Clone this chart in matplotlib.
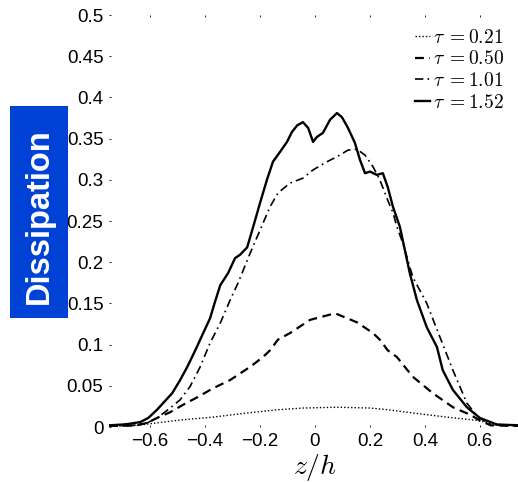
import matplotlib
matplotlib.use('Agg')
import matplotlib.pyplot as plt
from matplotlib.patches import Rectangle
import numpy as np

plt.rcParams['mathtext.fontset'] = 'cm'
plt.rcParams['font.family'] = ['Liberation Sans', 'DejaVu Sans']

# dissipation profiles across the layer, z/h vs value
z_021 = [-0.75, -0.65, -0.575, -0.491, -0.371, -0.247, -0.135, -0.044, 0.08, 0.2,
         0.265, 0.356, 0.48, 0.589, 0.65, 0.75]
d_021 = [0.0005, 0.002, 0.005, 0.0085, 0.012, 0.017, 0.021, 0.023, 0.024, 0.023,
         0.021, 0.017, 0.012, 0.008, 0.004, 0.001]

z_050 = [-0.75, -0.65, -0.611, -0.575, -0.527, -0.48, -0.429, -0.371, -0.309, -0.236,
         -0.189, -0.164, -0.135, -0.091, -0.018, 0.073, 0.153, 0.211, 0.236, 0.265,
         0.298, 0.356, 0.429, 0.502, 0.564, 0.6, 0.64, 0.75]
d_050 = [0.001, 0.002, 0.005, 0.011, 0.018, 0.027, 0.036, 0.047, 0.057, 0.073,
         0.085, 0.093, 0.106, 0.114, 0.13, 0.138, 0.127, 0.114, 0.106, 0.093,
         0.085, 0.061, 0.041, 0.024, 0.015, 0.008, 0.002, 0.001]

z_101 = [-0.75, -0.66, -0.611, -0.575, -0.535, -0.491, -0.455, -0.418, -0.382, -0.345,
         -0.309, -0.28, -0.236, -0.2, -0.164, -0.135, -0.091, -0.044, -0.007, 0.044,
         0.08, 0.12, 0.153, 0.182, 0.211, 0.236, 0.265, 0.284, 0.298, 0.32,
         0.356, 0.407, 0.455, 0.502, 0.553, 0.593, 0.64, 0.75]
d_101 = [0.001, 0.002, 0.005, 0.011, 0.021, 0.033, 0.049, 0.073, 0.102, 0.126,
         0.154, 0.175, 0.211, 0.239, 0.267, 0.284, 0.296, 0.302, 0.312, 0.322,
         0.328, 0.336, 0.337, 0.33, 0.316, 0.3, 0.275, 0.26, 0.243, 0.223,
         0.182, 0.15, 0.109, 0.069, 0.029, 0.012, 0.003, 0.001]

z_152 = [-0.75, -0.70, -0.673, -0.636, -0.607, -0.575, -0.553, -0.52, -0.491, -0.465,
         -0.436, -0.407, -0.382, -0.364, -0.345, -0.316, -0.291, -0.273, -0.247,
         -0.225, -0.2, -0.175, -0.153, -0.127, -0.102, -0.084, -0.065, -0.044, -0.025,
         -0.007, 0.007, 0.029, 0.055, 0.08, 0.098, 0.12, 0.145, 0.164, 0.182,
         0.2, 0.225, 0.247, 0.265, 0.284, 0.309, 0.327, 0.345, 0.371, 0.407,
         0.444, 0.465, 0.502, 0.553, 0.6, 0.662, 0.75]
d_152 = [0.002, 0.003, 0.004, 0.006, 0.011, 0.021, 0.029, 0.041, 0.057, 0.073,
         0.093, 0.114, 0.132, 0.152, 0.172, 0.187, 0.205, 0.209, 0.218,
         0.243, 0.272, 0.3, 0.322, 0.334, 0.346, 0.358, 0.366, 0.37, 0.363,
         0.346, 0.352, 0.357, 0.373, 0.381, 0.376, 0.363, 0.345, 0.324, 0.308,
         0.31, 0.306, 0.308, 0.291, 0.267, 0.243, 0.215, 0.187, 0.154, 0.121,
         0.097, 0.069, 0.045, 0.024, 0.011, 0.003, 0.002]

labels = [r'$\tau\;=0.21$', r'$\tau\;=0.50$', r'$\tau\;=1.01$', r'$\tau\;=1.52$']
y_ticks = [0, 0.05, 0.1, 0.15, 0.2, 0.25, 0.3, 0.35, 0.4, 0.45, 0.5]
y_ticklabels = ['0', '0.05', '0.1', '0.15', '0.2', '0.25', '0.3', '0.35', '0.4', '0.45', '0.5']
x_ticks = [-0.6, -0.4, -0.2, 0, 0.2, 0.4, 0.6]
x_ticklabels = ['\u22120.6', '\u22120.4', '\u22120.2', '0', '0.2', '0.4', '0.6']

fig = plt.figure(figsize=(5.18, 4.82), dpi=100)
ax = fig.add_axes([109 / 518, 55 / 482, 412 / 518, 412 / 482])

ax.plot(z_021, d_021, color='black', lw=1.0, linestyle=(0, (1, 1.5)), label=labels[0])
ax.plot(z_050, d_050, color='black', lw=1.6, linestyle=(0, (4, 2.5)), label=labels[1])
ax.plot(z_101, d_101, color='black', lw=1.2, linestyle=(0, (5, 2.5, 1, 2.5)), label=labels[2])
ax.plot(z_152, d_152, color='black', lw=1.7, linestyle='-', label=labels[3])

ax.set_xlim(-0.75, 0.75)
ax.set_ylim(0, 0.5)
ax.set_xticks(x_ticks)
ax.set_xticklabels(x_ticklabels)
ax.set_yticks(y_ticks)
ax.set_yticklabels(y_ticklabels)
ax.tick_params(direction='in', length=1.5, width=0.6, labelsize=13.5,
               top=True, right=True, pad=4)
for s in ax.spines.values():
    s.set_visible(False)

ax.set_xlabel(r'$z/h$', fontsize=20, labelpad=2)

leg = ax.legend(loc='upper right', bbox_to_anchor=(504 / 518, 1 - 29 / 482),
                bbox_transform=fig.transFigure, frameon=False, fontsize=14,
                handlelength=0.8, handletextpad=0.15, labelspacing=0.18,
                borderpad=0, borderaxespad=0)

# blue label box on the left
fig.patches.append(Rectangle((10 / 518, 1 - 318 / 482), 58 / 518, 212 / 482,
                             transform=fig.transFigure, facecolor='#0041d6',
                             edgecolor='none'))
fig.text(39 / 518, 1 - 216 / 482, 'Dissipation', rotation=90, color='white',
         fontsize=23.5, fontweight='bold', ha='center', va='center')

fig.savefig('out.png', dpi=100)
